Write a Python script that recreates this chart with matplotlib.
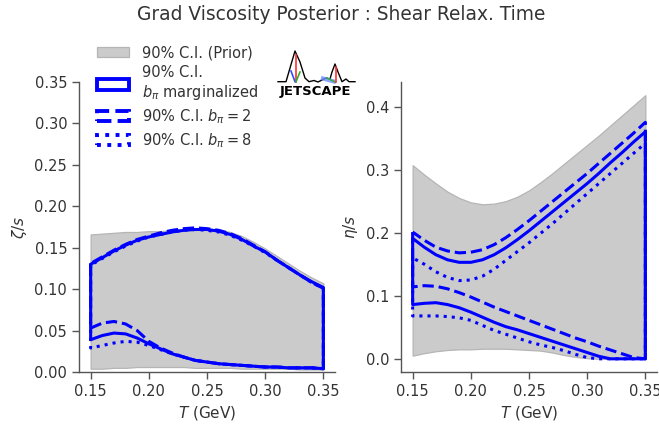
import matplotlib
matplotlib.use("Agg")
import matplotlib.pyplot as plt
from matplotlib.patches import Patch

# ---------------- data ----------------
T = [0.15, 0.16, 0.17, 0.18, 0.19, 0.20, 0.21, 0.22, 0.23, 0.24, 0.25,
     0.26, 0.27, 0.28, 0.29, 0.30, 0.31, 0.32, 0.33, 0.34, 0.35]

# zeta/s (bulk)
zeta_prior_lo = [0.004, 0.004, 0.005, 0.005, 0.006, 0.006, 0.006, 0.006, 0.006, 0.005, 0.005,
                 0.005, 0.005, 0.004, 0.004, 0.004, 0.004, 0.004, 0.003, 0.003, 0.003]
zeta_prior_hi = [0.166, 0.167, 0.168, 0.169, 0.169, 0.170, 0.170, 0.171, 0.172, 0.173, 0.173,
                 0.172, 0.169, 0.164, 0.157, 0.149, 0.140, 0.131, 0.122, 0.114, 0.107]
zeta_marg_lo = [0.039, 0.044, 0.047, 0.046, 0.041, 0.034, 0.028, 0.022, 0.018, 0.014, 0.012,
                0.010, 0.009, 0.008, 0.007, 0.006, 0.006, 0.005, 0.005, 0.005, 0.004]
zeta_marg_hi = [0.130, 0.138, 0.146, 0.153, 0.159, 0.163, 0.166, 0.169, 0.171, 0.172, 0.172,
                0.170, 0.166, 0.160, 0.152, 0.145, 0.135, 0.126, 0.117, 0.109, 0.102]
zeta_b2_lo = [0.053, 0.059, 0.061, 0.058, 0.050, 0.037, 0.029, 0.023, 0.018, 0.014, 0.012,
              0.010, 0.009, 0.008, 0.007, 0.006, 0.006, 0.005, 0.005, 0.005, 0.004]
zeta_b2_hi = [0.131, 0.139, 0.147, 0.154, 0.160, 0.164, 0.168, 0.171, 0.173, 0.174, 0.173,
              0.171, 0.167, 0.161, 0.153, 0.145, 0.135, 0.126, 0.117, 0.108, 0.101]
zeta_b8_lo = [0.029, 0.032, 0.035, 0.037, 0.036, 0.032, 0.027, 0.022, 0.018, 0.014, 0.012,
              0.010, 0.009, 0.008, 0.007, 0.006, 0.006, 0.005, 0.005, 0.005, 0.004]
zeta_b8_hi = [0.129, 0.137, 0.145, 0.152, 0.158, 0.163, 0.166, 0.169, 0.171, 0.172, 0.171,
              0.169, 0.165, 0.159, 0.152, 0.144, 0.135, 0.126, 0.117, 0.108, 0.101]

# eta/s (shear)
eta_prior_lo = [0.005, 0.009, 0.012, 0.014, 0.015, 0.015, 0.016, 0.016, 0.016, 0.015, 0.014,
                0.013, 0.010, 0.006, 0.003, 0.001, 0.000, 0.000, 0.000, 0.000, 0.000]
eta_prior_hi = [0.307, 0.292, 0.278, 0.265, 0.255, 0.248, 0.245, 0.246, 0.250, 0.257, 0.267,
                0.280, 0.294, 0.309, 0.324, 0.339, 0.354, 0.370, 0.386, 0.402, 0.418]
eta_marg_lo = [0.086, 0.088, 0.089, 0.086, 0.081, 0.074, 0.066, 0.058, 0.051, 0.046, 0.040,
               0.034, 0.028, 0.022, 0.016, 0.010, 0.004, 0.000, 0.000, 0.000, 0.000]
eta_marg_hi = [0.191, 0.177, 0.165, 0.157, 0.153, 0.153, 0.157, 0.165, 0.176, 0.189, 0.203,
               0.218, 0.233, 0.248, 0.263, 0.278, 0.294, 0.311, 0.327, 0.344, 0.360]
eta_b2_lo = [0.114, 0.116, 0.115, 0.111, 0.105, 0.098, 0.090, 0.082, 0.075, 0.068, 0.061,
             0.054, 0.047, 0.040, 0.033, 0.027, 0.020, 0.014, 0.008, 0.002, 0.000]
eta_b2_hi = [0.201, 0.188, 0.177, 0.171, 0.168, 0.169, 0.173, 0.181, 0.192, 0.205, 0.219,
             0.234, 0.249, 0.264, 0.279, 0.294, 0.310, 0.326, 0.342, 0.358, 0.375]
eta_b8_lo = [0.068, 0.068, 0.068, 0.067, 0.065, 0.061, 0.053, 0.045, 0.039, 0.033, 0.027,
             0.022, 0.018, 0.013, 0.007, 0.002, 0.000, 0.000, 0.000, 0.000, 0.000]
eta_b8_hi = [0.160, 0.150, 0.138, 0.129, 0.124, 0.125, 0.131, 0.142, 0.156, 0.170, 0.184,
             0.199, 0.214, 0.230, 0.246, 0.262, 0.278, 0.294, 0.310, 0.326, 0.342]

legend_labels = ["90% C.I. (Prior)", "90% C.I.\n$b_\\pi$ marginalized",
                 "90% C.I. $b_\\pi=2$", "90% C.I. $b_\\pi=8$"]
title = "Grad Viscosity Posterior : Shear Relax. Time"

# ---------------- style ----------------
TXT = "#333333"
SPINE = "#555555"
BLUE = "#0000ff"
GREY_FACE = "#cbcbcb"
GREY_EDGE = "#b5b5b5"
LW = 2.2

plt.rcParams["font.family"] = ["DejaVu Sans"]
plt.rcParams["mathtext.fontset"] = "dejavusans"

fig = plt.figure(figsize=(6.59, 4.25), dpi=100)
W, H = 659.0, 425.0
axL = fig.add_axes([79 / W, 1 - 372 / H, 256 / W, 290 / H])
axR = fig.add_axes([401 / W, 1 - 372 / H, 256 / W, 290 / H])


def draw(ax, plo, phi, bands):
    ax.fill_between(T, plo, phi, facecolor=GREY_FACE, edgecolor=GREY_EDGE, lw=0.9, zorder=1)
    for lo, hi, ls in bands:
        ax.fill_between(T, lo, hi, facecolor="none", edgecolor=BLUE, lw=LW,
                        linestyle=ls, zorder=3)
    for s in ("top", "right"):
        ax.spines[s].set_visible(False)
    for s in ("left", "bottom"):
        ax.spines[s].set_color(SPINE)
        ax.spines[s].set_linewidth(1.0)
    ax.tick_params(colors=SPINE, labelcolor=TXT, labelsize=10.5, length=5, width=1)
    ax.set_xticks([0.15, 0.20, 0.25, 0.30, 0.35])
    ax.set_xlabel("$T$ (GeV)", fontsize=11, color=TXT)


draw(axL, zeta_prior_lo, zeta_prior_hi,
     [(zeta_marg_lo, zeta_marg_hi, "-"), (zeta_b2_lo, zeta_b2_hi, "--"),
      (zeta_b8_lo, zeta_b8_hi, ":")])
axL.set_ylim(0, 0.35)
axL.set_yticks([0.0, 0.05, 0.10, 0.15, 0.20, 0.25, 0.30, 0.35])
axL.set_yticklabels(["0.00", "0.05", "0.10", "0.15", "0.20", "0.25", "0.30", "0.35"])
axL.set_ylabel("$\\zeta/s$", fontsize=11, color=TXT)

draw(axR, eta_prior_lo, eta_prior_hi,
     [(eta_marg_lo, eta_marg_hi, "-"), (eta_b2_lo, eta_b2_hi, "--"),
      (eta_b8_lo, eta_b8_hi, ":")])
axR.set_yticks([0.0, 0.1, 0.2, 0.3, 0.4])
axR.set_ylabel("$\\eta/s$", fontsize=11, color=TXT)

fig.text(341 / W, 1 - 14 / H, title, ha="center", va="center", fontsize=13.4, color=TXT)

handles = [
    Patch(facecolor=GREY_FACE, edgecolor=GREY_EDGE, lw=0.9),
    Patch(facecolor="none", edgecolor=BLUE, lw=LW + 0.6, linestyle="-"),
    Patch(facecolor="none", edgecolor=BLUE, lw=LW + 0.6, linestyle="--"),
    Patch(facecolor="none", edgecolor=BLUE, lw=LW + 0.6, linestyle=":"),
]
leg = fig.legend(handles, legend_labels, loc="upper left",
                 bbox_to_anchor=(97 / W, 1 - 45 / H), frameon=False,
                 fontsize=10.5, borderpad=0, borderaxespad=0,
                 handlelength=2.2, handletextpad=0.9, labelspacing=0.35)
for t in leg.get_texts():
    t.set_color(TXT)

# ---------------- JETSCAPE logo (decoration) ----------------
lg = fig.add_axes([270 / W, 1 - 100 / H, 90 / W, 60 / H])
lg.set_xlim(270, 360)
lg.set_ylim(100, 40)
lg.axis("off")
mx = [278, 286, 295, 300, 305, 309, 314, 318, 322, 326, 330, 332, 335, 338, 342, 346, 349, 355]
my = [81.7, 81.7, 51, 62, 78, 81.7, 80.5, 82, 80, 78, 79, 72, 64, 72, 81.7, 79, 81.7, 81.7]
lg.plot(mx, my, color="black", lw=1.0)
lg.plot([295.5, 295.5], [55, 81.7], color="#ff3030", lw=1.2)
lg.plot([291, 295], [71, 81.7], color="#3050ff", lw=1.2)
lg.plot([296, 300], [81.7, 72], color="#30b030", lw=1.2)
lg.plot([323, 334], [78.5, 81.5], color="#6a8cff", lw=3.0, alpha=0.8)
lg.plot([327, 335], [78, 82], color="#30b030", lw=1.0)
lg.plot([336, 336], [67, 82], color="#ff3030", lw=1.2)
lg.text(315.5, 92, "JETSCAPE", ha="center", va="center", fontsize=9.5,
        fontweight="heavy", color="black")

fig.savefig("out.png", dpi=100)
